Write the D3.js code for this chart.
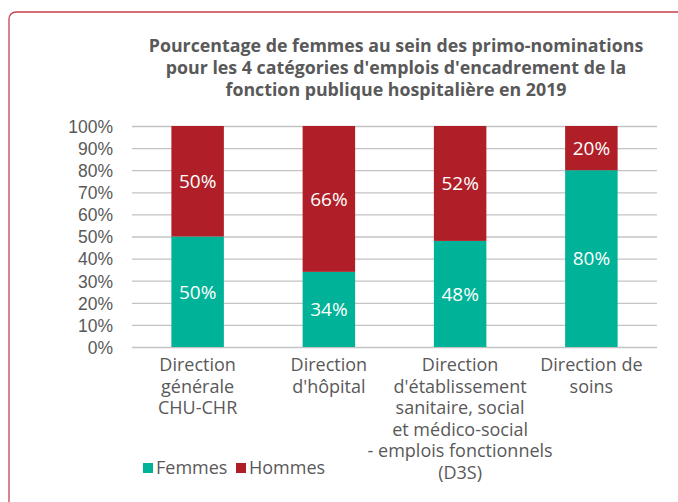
<!DOCTYPE html>
<html>
<head>
<meta charset="utf-8">
<script src="https://cdn.jsdelivr.net/npm/d3@7"></script>
<style>
  html, body { margin: 0; padding: 0; background: #fff; }
  svg { display: block; font-family: "Open Sans", sans-serif; }
</style>
</head>
<body>
<div id="chart"></div>
<script>
(function () {
  // ================================================
  // 1. DATA
  // ================================================
  const categories = ["CHU-CHR", "DH", "D3S", "DS"];
  const categoryLines = [
    ["Direction", "générale", "CHU-CHR"],
    ["Direction", "d'hôpital"],
    ["Direction", "d'établissement", "sanitaire, social", "et médico-social", "- emplois fonctionnels", "(D3S)"],
    ["Direction de", "soins"]
  ];
  const femmes = [50, 34, 48, 80];
  const hommes = [50, 66, 52, 20];
  const seriesNames = ["Femmes", "Hommes"];
  const seriesColors = ["#00b398", "#b01f27"];
  const yTicks = [0, 10, 20, 30, 40, 50, 60, 70, 80, 90, 100];
  const titleLines = [
    "Pourcentage de femmes au sein des primo-nominations",
    "pour les 4 catégories d'emplois d'encadrement de la",
    "fonction publique hospitalière en 2019"
  ];

  // ================================================
  // 2. LAYOUT
  // ================================================
  const width = 678, height = 502;
  const plot = { left: 132, right: 657, top: 126, bottom: 347 };

  const svg = d3.select("#chart").append("svg")
    .attr("width", width)
    .attr("height", height);

  // card border
  svg.append("rect")
    .attr("x", 9).attr("y", 12)
    .attr("width", width + 20).attr("height", height + 20)
    .attr("rx", 7)
    .attr("fill", "none")
    .attr("stroke", "#c8424c")
    .attr("stroke-width", 1.3);

  // ================================================
  // 3. TITLE
  // ================================================
  svg.append("text")
    .attr("text-anchor", "middle")
    .style("font-size", "17.8px")
    .style("font-weight", "bold")
    .style("fill", "#595959")
    .selectAll("tspan")
    .data(titleLines)
    .enter()
    .append("tspan")
    .attr("x", 396)
    .attr("y", (d, i) => 52 + i * 22)
    .text(d => d);

  // ================================================
  // 4. SCALES + GRID
  // ================================================
  const x = d3.scaleBand()
    .domain(categories)
    .range([plot.left, plot.right])
    .paddingInner(0.6)
    .paddingOuter(0.3);

  const y = d3.scaleLinear()
    .domain([0, 100])
    .range([plot.bottom, plot.top]);

  const yAxis = svg.append("g")
    .attr("transform", `translate(${plot.left},0)`)
    .call(d3.axisLeft(y)
      .tickValues(yTicks)
      .tickSize(-(plot.right - plot.left))
      .tickPadding(19)
      .tickFormat(d => d + "%"));
  yAxis.select(".domain").remove();
  yAxis.selectAll(".tick line")
    .attr("stroke", "#c3c3c3")
    .attr("stroke-width", 1.3);
  yAxis.selectAll(".tick text")
    .style("font-size", "17.5px")
    .style("fill", "#595959")
    .attr("dy", "0.36em");

  // ================================================
  // 5. BARS
  // ================================================
  const rows = categories.map((c, i) => ({ cat: c, Femmes: femmes[i], Hommes: hommes[i] }));
  const stacked = d3.stack().keys(seriesNames)(rows);

  const layers = svg.selectAll(".layer")
    .data(stacked)
    .enter()
    .append("g")
    .attr("class", "layer")
    .attr("fill", (d, i) => seriesColors[i]);

  layers.selectAll("rect")
    .data(d => d)
    .enter()
    .append("rect")
    .attr("x", d => x(d.data.cat))
    .attr("width", x.bandwidth())
    .attr("y", d => y(d[1]))
    .attr("height", d => y(d[0]) - y(d[1]));

  layers.selectAll("text")
    .data(d => d)
    .enter()
    .append("text")
    .attr("x", d => x(d.data.cat) + x.bandwidth() / 2)
    .attr("y", d => y((d[0] + d[1]) / 2))
    .attr("dy", "0.36em")
    .attr("text-anchor", "middle")
    .style("font-size", "19px")
    .style("fill", "#fff")
    .text(d => (d[1] - d[0]) + "%");

  // ================================================
  // 6. CATEGORY LABELS
  // ================================================
  svg.append("g")
    .selectAll("text")
    .data(categories)
    .enter()
    .append("text")
    .attr("text-anchor", "middle")
    .style("font-size", "18px")
    .style("fill", "#595959")
    .each(function (c, i) {
      d3.select(this).selectAll("tspan")
        .data(categoryLines[i])
        .enter()
        .append("tspan")
        .attr("x", x(c) + x.bandwidth() / 2)
        .attr("y", (d, j) => 371 + j * 21.5)
        .text(d => d);
    });

  // ================================================
  // 7. LEGEND
  // ================================================
  const legend = svg.append("g")
    .attr("transform", "translate(143,463)");
  const legendX = [0, 93];
  seriesNames.forEach((name, i) => {
    legend.append("rect")
      .attr("x", legendX[i]).attr("y", 0)
      .attr("width", 10).attr("height", 10)
      .attr("fill", seriesColors[i]);
    legend.append("text")
      .attr("x", legendX[i] + 13)
      .attr("y", 10.5)
      .style("font-size", "18px")
      .style("fill", "#595959")
      .text(name);
  });
})();
</script>
</body>
</html>
